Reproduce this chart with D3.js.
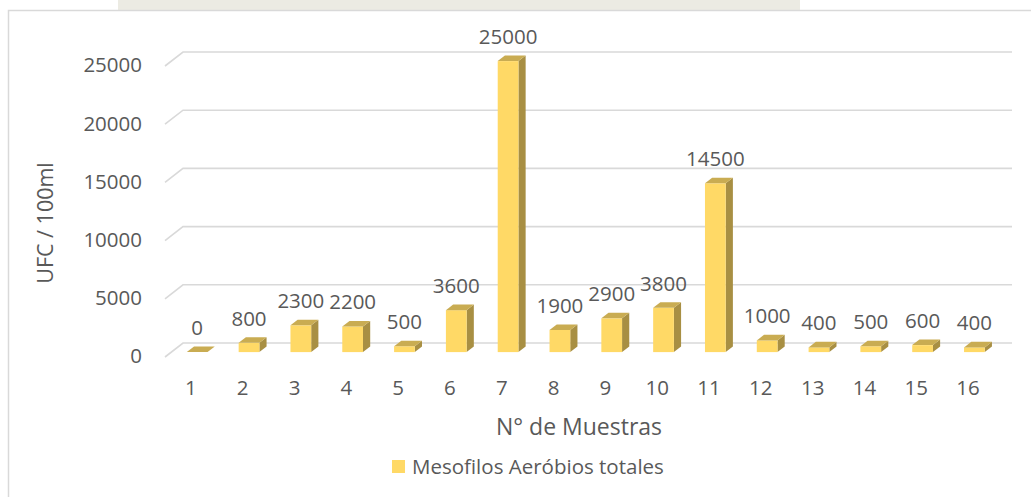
<!DOCTYPE html>
<html>
<head>
<meta charset="utf-8">
<script src="https://cdn.jsdelivr.net/npm/d3@7"></script>
<style>
  body { margin: 0; background: #fff; }
  text { font-family: "Open Sans", sans-serif; fill: #595959; }
</style>
</head>
<body>
<div id="chart"></div>
<script>
// data
var muestras = ["1","2","3","4","5","6","7","8","9","10","11","12","13","14","15","16"];
var valores = [0, 800, 2300, 2200, 500, 3600, 25000, 1900, 2900, 3800, 14500, 1000, 400, 500, 600, 400];
var yTicks = [0, 5000, 10000, 15000, 20000, 25000];
var serieNombre = "Mesofilos Aeróbios totales";

var W = 1031, H = 497;
var depthX = 18, depthY = -14; // 3d floor depth
var f1 = 0.35, f2 = 0.75;       // bar depth inside the floor

var svg = d3.select("#chart").append("svg")
    .attr("width", W).attr("height", H);

// faint watermark strip above the chart frame
svg.append("rect").attr("x", 118).attr("y", 0).attr("width", 682).attr("height", 10)
    .attr("fill", "#ecebe3");

// chart frame
svg.append("rect").attr("x", 8.5).attr("y", 10.5)
    .attr("width", 1040).attr("height", 500)
    .attr("fill", "#fff").attr("stroke", "#d9d9d9").attr("stroke-width", 1.5);

var x = d3.scaleBand().domain(muestras).range([165, 994]).paddingInner(0).paddingOuter(0);
var y = d3.scaleLinear().domain([0, 25000]).range([357, 66]);

// gridlines (side diagonal + back wall)
var grid = svg.append("g");
yTicks.forEach(function(t) {
    var p = [[165, y(t)], [165 + depthX, y(t) + depthY], [994 + depthX, y(t) + depthY]];
    grid.append("path")
        .attr("d", d3.line()(p))
        .attr("fill", "none").attr("stroke", "#d9d9d9").attr("stroke-width", 1.6);
});

// y tick labels
svg.append("g").selectAll("text").data(yTicks).enter().append("text")
    .attr("x", 142).attr("y", function(d) { return y(d) + 1; })
    .attr("text-anchor", "end").attr("dominant-baseline", "middle")
    .attr("font-size", "20.5px")
    .text(function(d) { return d; });

// bars
var barW = x.bandwidth() / 2.5;
var dX = (f2 - f1) * depthX, dY = (f2 - f1) * depthY;
var bars = svg.append("g").selectAll("g").data(valores).enter().append("g");

function fx(i) { return x(muestras[i]) + (x.bandwidth() - barW) / 2 + f1 * depthX; }
function fTop(d) { return y(d) + f1 * depthY; }
function fBot() { return y(0) + f1 * depthY; }

// side face
bars.append("path")
    .attr("d", function(d, i) {
        var x1 = fx(i) + barW;
        return d3.line()([[x1, fTop(d)], [x1 + dX, fTop(d) + dY], [x1 + dX, fBot() + dY], [x1, fBot()]]) + "Z";
    })
    .attr("fill", "#a88f43");
// front face
bars.append("rect")
    .attr("x", function(d, i) { return fx(i); })
    .attr("y", function(d) { return fTop(d); })
    .attr("width", barW)
    .attr("height", function(d) { return fBot() - fTop(d); })
    .attr("fill", "#ffd966");
// top face
bars.append("path")
    .attr("d", function(d, i) {
        var x0 = fx(i), t = fTop(d);
        return d3.line()([[x0, t], [x0 + dX, t + dY], [x0 + barW + dX, t + dY], [x0 + barW, t]]) + "Z";
    })
    .attr("fill", "#c9ac52");

// data labels
bars.append("text")
    .attr("x", function(d, i) { return fx(i) + barW / 2; })
    .attr("y", function(d) { return fTop(d) - 17; })
    .attr("text-anchor", "middle")
    .attr("font-size", "20.5px")
    .text(function(d) { return d; });

// category labels
svg.append("g").selectAll("text").data(muestras).enter().append("text")
    .attr("x", function(d) { return x(d) + x.bandwidth() / 2; })
    .attr("y", 395)
    .attr("text-anchor", "middle")
    .attr("font-size", "20.5px")
    .text(function(d) { return d; });

// axis titles
svg.append("text")
    .attr("transform", "translate(53,223) rotate(-90)")
    .attr("text-anchor", "middle")
    .attr("font-size", "21.5px")
    .text("UFC / 100ml");

svg.append("text")
    .attr("x", 579).attr("y", 435)
    .attr("text-anchor", "middle")
    .attr("font-size", "23px")
    .text("N° de Muestras");

// legend
var legend = svg.append("g");
legend.append("rect").attr("x", 392).attr("y", 460).attr("width", 13).attr("height", 13)
    .attr("fill", "#ffd966");
legend.append("text").attr("x", 412).attr("y", 474)
    .attr("font-size", "20.5px")
    .text(serieNombre);
</script>
</body>
</html>
